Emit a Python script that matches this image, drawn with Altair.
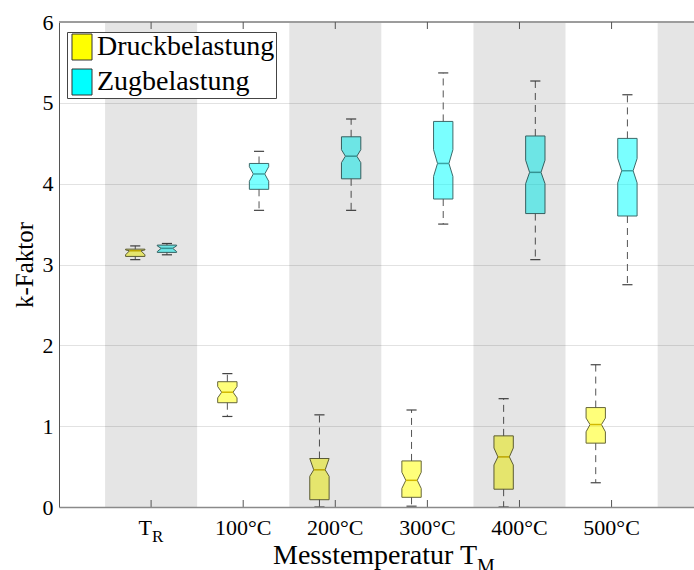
import altair as alt
import pandas as pd

# Groups on the x axis (measurement temperature)
groups = ["T_R", "100°C", "200°C", "300°C", "400°C", "500°C"]
label_base = ["T", "100°C", "200°C", "300°C", "400°C", "500°C"]
label_sub = ["R", "", "", "", "", ""]
series = ["Druckbelastung", "Zugbelastung"]

# Compression (Druckbelastung) box statistics
druck_lo_cap = [3.06, 1.12, 0.00, 0.01, 0.00, 0.30]
druck_q1 = [3.10, 1.29, 0.09, 0.12, 0.22, 0.79]
druck_notch_lo = [3.12, 1.35, 0.38, 0.23, 0.52, 0.93]
druck_median = [3.17, 1.42, 0.46, 0.33, 0.62, 1.02]
druck_notch_hi = [3.18, 1.49, 0.60, 0.43, 0.73, 1.10]
druck_q3 = [3.19, 1.55, 0.60, 0.57, 0.88, 1.23]
druck_hi_cap = [3.23, 1.65, 1.14, 1.20, 1.34, 1.76]

# Tension (Zugbelastung) box statistics
zug_lo_cap = [3.12, 3.67, 3.67, 3.50, 3.06, 2.75]
zug_q1 = [3.15, 3.93, 4.06, 3.81, 3.63, 3.60]
zug_notch_lo = [3.16, 4.03, 4.26, 4.09, 4.00, 4.01]
zug_median = [3.20, 4.12, 4.34, 4.25, 4.14, 4.16]
zug_notch_hi = [3.23, 4.21, 4.42, 4.42, 4.29, 4.31]
zug_q3 = [3.24, 4.25, 4.58, 4.77, 4.59, 4.56]
zug_hi_cap = [3.26, 4.40, 4.80, 5.37, 5.27, 5.10]

# Shaded bands behind alternating groups (x positions in group units)
band_start = [0.5, 2.5, 4.5, 6.5]
band_end = [1.5, 3.5, 5.5, 7.5]

X_MAX = 6.895
OFFSET = {"Druckbelastung": -0.172, "Zugbelastung": 0.172}
HALF_W = 0.105
NOTCH_W = 0.062
CAP_W = 0.055
EDGE = {"Druckbelastung": "#66663a", "Zugbelastung": "#3d6a6a"}
MED = {"Druckbelastung": "#d2b800", "Zugbelastung": "#3aa3a3"}

stats = {
    "Druckbelastung": (druck_lo_cap, druck_q1, druck_notch_lo, druck_median,
                       druck_notch_hi, druck_q3, druck_hi_cap),
    "Zugbelastung": (zug_lo_cap, zug_q1, zug_notch_lo, zug_median,
                     zug_notch_hi, zug_q3, zug_hi_cap),
}

poly_rows, box_rows = [], []
for s in series:
    lo, q1, nlo, med, nhi, q3, hi = stats[s]
    for i, g in enumerate(groups):
        c = i + 1 + OFFSET[s]
        outline = [(q1[i], HALF_W), (nlo[i], HALF_W), (med[i], NOTCH_W),
                   (nhi[i], HALF_W), (q3[i], HALF_W)]
        for yv, hw in outline:
            poly_rows.append({"box": f"{s}-{g}", "Belastung": s,
                              "y": yv, "xl": c - hw, "xr": c + hw,
                              "edge": EDGE[s]})
        box_rows.append({"Belastung": s, "c": c, "lo": lo[i], "q1": q1[i],
                         "med": med[i], "q3": q3[i], "hi": hi[i],
                         "capL": c - CAP_W, "capR": c + CAP_W,
                         "nL": c - NOTCH_W, "nR": c + NOTCH_W,
                         "medcol": MED[s]})

poly = pd.DataFrame(poly_rows)
boxes = pd.DataFrame(box_rows)
bands = pd.DataFrame({"b0": band_start, "b1": band_end})
labels = pd.DataFrame({"pos": list(range(1, len(groups) + 1)),
                       "base": label_base, "sub": label_sub})

FONT = "Liberation Serif"

xscale = alt.Scale(domain=[0, X_MAX], nice=False, zero=False)
yscale = alt.Scale(domain=[0, 6], nice=False)

x_axis = alt.Axis(labels=False, ticks=False, grid=False, title=None,
                  domainColor="#8a8a8a", domainWidth=1.5, zindex=1)
y_axis = alt.Axis(values=[0, 1, 2, 3, 4, 5, 6], format="d", grid=True,
                  gridColor="#e2e2e2", ticks=False, tickSize=0,
                  domainColor="#555555", domainWidth=1,
                  labelFont=FONT, labelFontSize=22, labelColor="black",
                  labelPadding=6, title="k-Faktor", titleFont=FONT,
                  titleFontSize=25, titleFontWeight="normal", titleColor="black",
                  titleX=-27, titleBaseline="alphabetic")

legend = alt.Legend(title=None, orient="none", legendX=8, legendY=10,
                    labelFont=FONT, labelFontSize=28, labelColor="black",
                    labelLimit=400,
                    symbolType="M-0.77,-1H0.77V1H-0.77Z", symbolSize=676,
                    symbolStrokeColor="#333333", symbolStrokeWidth=1,
                    symbolOpacity=1, fillColor="white",
                    strokeColor="#444444", padding=1, rowPadding=5,
                    labelOffset=1)

boxes_area = alt.Chart(poly).mark_area(
    orient="horizontal", fillOpacity=0.52, strokeWidth=1
).encode(
    y=alt.Y("y:Q", scale=yscale, axis=y_axis),
    x=alt.X("xl:Q", scale=xscale, axis=x_axis),
    x2="xr:Q",
    detail="box:N",
    fill=alt.Fill("Belastung:N",
                  scale=alt.Scale(domain=series, range=["#ffff00", "#00ffff"]),
                  legend=legend),
    stroke=alt.Stroke("edge:N", scale=None),
)

base = alt.Chart(boxes)
whisk_up = base.mark_rule(strokeDash=[7, 5], color="#555555", strokeWidth=1).encode(
    x="c:Q", y="q3:Q", y2="hi:Q")
whisk_dn = base.mark_rule(strokeDash=[7, 5], color="#555555", strokeWidth=1).encode(
    x="c:Q", y="q1:Q", y2="lo:Q")
cap_up = base.mark_rule(color="#444444", strokeWidth=1.2).encode(
    x="capL:Q", x2="capR:Q", y="hi:Q")
cap_dn = base.mark_rule(color="#444444", strokeWidth=1.2).encode(
    x="capL:Q", x2="capR:Q", y="lo:Q")
medians = base.mark_rule(strokeWidth=1.5).encode(
    x="nL:Q", x2="nR:Q", y="med:Q", color=alt.Color("medcol:N", scale=None))

band_layer = alt.Chart(bands).mark_rect(color="black", opacity=0.1, clip=True).encode(
    x="b0:Q", x2="b1:Q", y=alt.datum(0), y2=alt.datum(6))

top_line = alt.Chart(bands).mark_rule(color="#9c9c9c", strokeWidth=1.5).encode(
    x=alt.value(0), x2=alt.value(635), y=alt.datum(6))

lab = alt.Chart(labels)
ticks_bottom = lab.mark_rule(color="#555555").encode(
    x="pos:Q", y=alt.value(485), y2=alt.value(478))
ticks_top = lab.mark_rule(color="#555555").encode(
    x="pos:Q", y=alt.value(0), y2=alt.value(7))
tick_text = lab.transform_filter("datum.sub == ''").mark_text(
    font=FONT, fontSize=22, color="black", baseline="alphabetic",
    align="center").encode(x="pos:Q", y=alt.value(513), text="base:N")
tick_text_sub_base = lab.transform_filter("datum.sub != ''").mark_text(
    font=FONT, fontSize=22, color="black", baseline="alphabetic",
    align="center", dx=-6).encode(x="pos:Q", y=alt.value(513), text="base:N")
tick_sub = lab.transform_filter("datum.sub != ''").mark_text(
    font=FONT, fontSize=17, color="black", baseline="alphabetic", align="left",
    dx=1).encode(x="pos:Q", y=alt.value(520), text="sub:N")

title_main = alt.Chart(labels.head(1)).mark_text(
    font=FONT, fontSize=28, color="black", baseline="alphabetic", align="right",
    text="Messtemperatur T").encode(x=alt.value(418), y=alt.value(542))
title_sub = alt.Chart(labels.head(1)).mark_text(
    font=FONT, fontSize=20, color="black", baseline="alphabetic", align="left",
    text="M").encode(x=alt.value(418), y=alt.value(551))

chart = alt.layer(
    boxes_area, whisk_up, whisk_dn, cap_up, cap_dn, medians,
    band_layer, top_line, ticks_bottom, ticks_top, tick_text,
    tick_text_sub_base, tick_sub, title_main, title_sub,
).properties(
    width=635, height=485,
    autosize=alt.AutoSizeParams(type="none"),
    padding={"left": 59, "top": 22, "right": 0, "bottom": 63},
    background="white",
).configure_view(stroke=None)

chart.save("out.html", embed_options={"renderer": "svg", "actions": False})
